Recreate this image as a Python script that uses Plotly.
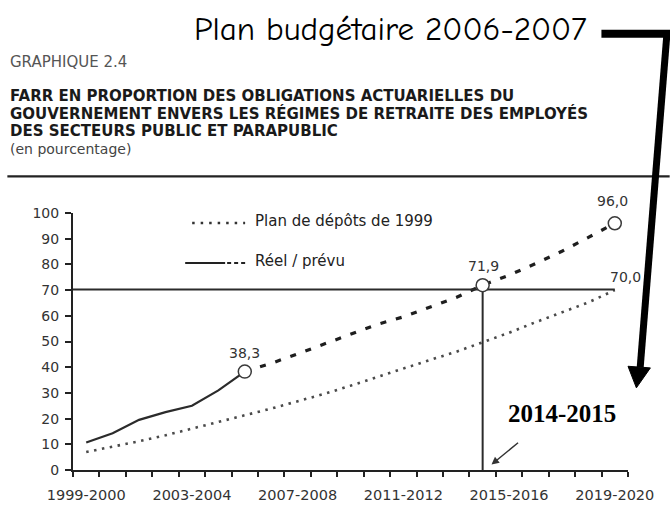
import plotly.graph_objects as go

# ---------------- data ----------------
categories = ["1999-2000", "2000-2001", "2001-2002", "2002-2003", "2003-2004",
              "2004-2005", "2005-2006", "2006-2007", "2007-2008", "2008-2009",
              "2009-2010", "2010-2011", "2011-2012", "2012-2013", "2013-2014",
              "2014-2015", "2015-2016", "2016-2017", "2017-2018", "2018-2019",
              "2019-2020"]
tick_labels = ["1999-2000", "2003-2004", "2007-2008", "2011-2012", "2015-2016", "2019-2020"]
y_ticks = [0, 10, 20, 30, 40, 50, 60, 70, 80, 90, 100]

plan_1999 = [7.0, 9.0, 11.2, 13.5, 16.0, 18.6, 21.3, 23.9, 26.6, 29.6, 32.8,
             36.2, 39.6, 42.8, 46.0, 49.6, 53.4, 57.5, 61.3, 65.2, 70.0]
reel_categories = categories[0:7]
reel_values = [10.7, 14.3, 19.5, 22.5, 25.0, 31.0, 38.3]
prevu_categories = categories[6:21]
prevu_values = [38.3, 41.5, 45.2, 49.0, 53.0, 56.6, 59.6, 63.3, 67.1, 71.9,
                75.8, 80.3, 85.1, 90.5, 96.0]
marker_categories = ["2005-2006", "2014-2015", "2019-2020"]
seuil = 70.2
annee_seuil = "2014-2015"

# ---------------- geometry helpers ----------------
W, H = 670, 528
L, R, T, B = 72.7, 628.3, 213.3, 470.5
PW, PH = R - L, B - T


def fx(px):
    return (px - L) / PW


def fy(py):
    return (B - py) / PH


def idx(cat):
    return categories.index(cat)


def fmt(v):
    return f"{v:.1f}".replace(".", ",")


FONT = "DejaVu Sans"
DARK = "#2b2b2b"

fig = go.Figure()

# Plan de dépôts de 1999 (dotted)
fig.add_trace(go.Scatter(
    x=[idx(c) for c in categories], y=plan_1999, mode="lines",
    line=dict(color="#4a4a4a", width=2.6, dash="2.5px,5.5px"),
    showlegend=False, hoverinfo="skip"))

# Réel (solid)
fig.add_trace(go.Scatter(
    x=[idx(c) for c in reel_categories], y=reel_values, mode="lines",
    line=dict(color=DARK, width=2.2), showlegend=False, hoverinfo="skip"))

# Prévu (dashed)
fig.add_trace(go.Scatter(
    x=[idx(c) for c in prevu_categories], y=prevu_values, mode="lines",
    line=dict(color="#1e1e1e", width=3.2, dash="6px,10px"),
    showlegend=False, hoverinfo="skip"))

# threshold lines
fig.add_trace(go.Scatter(
    x=[-0.5, idx(categories[-1])], y=[seuil, seuil], mode="lines",
    line=dict(color=DARK, width=2), showlegend=False, hoverinfo="skip"))
fig.add_trace(go.Scatter(
    x=[idx(annee_seuil), idx(annee_seuil)], y=[0, seuil], mode="lines",
    line=dict(color=DARK, width=2), showlegend=False, hoverinfo="skip"))

# open circle markers
all_series = dict(zip(prevu_categories, prevu_values))
fig.add_trace(go.Scatter(
    x=[idx(c) for c in marker_categories],
    y=[all_series[c] for c in marker_categories], mode="markers",
    marker=dict(symbol="circle", size=13, color="white",
                line=dict(color="#3a3a3a", width=1.5)),
    showlegend=False, hoverinfo="skip"))

annotations = []
# value labels
lab_shifts = {"2005-2006": (0, 19), "2014-2015": (1, 19), "2019-2020": (-2, 22)}
for c in marker_categories:
    dx, dy = lab_shifts[c]
    annotations.append(dict(x=idx(c), y=all_series[c], xref="x", yref="y",
                            text=fmt(all_series[c]), showarrow=False,
                            xshift=dx, yshift=dy,
                            font=dict(family=FONT, size=14, color="#333")))
annotations.append(dict(x=idx(categories[-1]), y=plan_1999[-1], xref="x", yref="y",
                        text=fmt(plan_1999[-1]), showarrow=False,
                        xshift=11, yshift=13,
                        font=dict(family=FONT, size=14, color="#333")))

# legend (manual)
annotations.append(dict(x=fx(253), y=fy(221.7), xref="paper", yref="paper",
                        text="Plan de dépôts de 1999", showarrow=False,
                        xanchor="left", yanchor="middle",
                        font=dict(family=FONT, size=15, color="#222")))
annotations.append(dict(x=fx(252.7), y=fy(261.7), xref="paper", yref="paper",
                        text="Réel / prévu", showarrow=False,
                        xanchor="left", yanchor="middle",
                        font=dict(family=FONT, size=15, color="#222")))

# 2014-2015 label and small arrow
annotations.append(dict(x=fx(562), y=fy(414), xref="paper", yref="paper",
                        text="<b>2014-2015</b>", showarrow=False,
                        xanchor="center", yanchor="middle",
                        font=dict(family="Liberation Serif", size=25, color="black")))
annotations.append(dict(x=fx(491.7), y=fy(465), xref="paper", yref="paper",
                        text="", showarrow=True, ax=28, ay=-23,
                        arrowhead=2, arrowsize=1, arrowwidth=1.5,
                        arrowcolor="#333"))

# header texts
annotations.append(dict(x=fx(192), y=fy(29), xref="paper", yref="paper",
                        text="Plan budgétaire 2006-2007", showarrow=False,
                        xanchor="left", yanchor="middle",
                        font=dict(family="Comic Sans MS, Comic Neue, Lato, sans-serif",
                                  size=33, color="black")))
annotations.append(dict(x=fx(8), y=fy(62), xref="paper", yref="paper",
                        text="GRAPHIQUE 2.4", showarrow=False,
                        xanchor="left", yanchor="middle",
                        font=dict(family=FONT, size=15, color="#555")))
title_lines = ["FARR EN PROPORTION DES OBLIGATIONS ACTUARIELLES DU",
               "GOUVERNEMENT ENVERS LES RÉGIMES DE RETRAITE DES EMPLOYÉS",
               "DES SECTEURS PUBLIC ET PARAPUBLIC"]
for line, yc in zip(title_lines, [96.5, 114.1, 131.7]):
    annotations.append(dict(x=fx(8), y=fy(yc), xref="paper", yref="paper",
                            text=f"<b>{line}</b>", showarrow=False,
                            xanchor="left", yanchor="middle",
                            font=dict(family=FONT, size=15, color="#1a1a1a")))
annotations.append(dict(x=fx(8), y=fy(149.5), xref="paper", yref="paper",
                        text="(en pourcentage)", showarrow=False,
                        xanchor="left", yanchor="middle",
                        font=dict(family=FONT, size=14, color="#444")))

shapes = []
# rule under title
shapes.append(dict(type="line", xref="paper", yref="paper",
                   x0=fx(7), x1=fx(670), y0=fy(176.7), y1=fy(176.7),
                   line=dict(color="#222", width=2.2)))
# legend samples
shapes.append(dict(type="line", xref="paper", yref="paper",
                   x0=fx(192), x1=fx(245), y0=fy(223.3), y1=fy(223.3),
                   line=dict(color="#333", width=2.6, dash="2.5px,6px")))
shapes.append(dict(type="line", xref="paper", yref="paper",
                   x0=fx(185), x1=fx(225), y0=fy(263.3), y1=fy(263.3),
                   line=dict(color="#222", width=2)))
shapes.append(dict(type="line", xref="paper", yref="paper",
                   x0=fx(227), x1=fx(246), y0=fy(263.3), y1=fy(263.3),
                   line=dict(color="#222", width=2, dash="4px,3px")))
# big black arrow
shapes.append(dict(type="line", xref="paper", yref="paper",
                   x0=fx(601.7), x1=fx(671), y0=fy(34), y1=fy(34),
                   line=dict(color="black", width=8)))
shapes.append(dict(type="line", xref="paper", yref="paper",
                   x0=fx(667.5), x1=fx(640.5), y0=fy(31), y1=fy(368),
                   line=dict(color="black", width=7)))
shapes.append(dict(type="path", xref="paper", yref="paper",
                   path=f"M {fx(628.3)},{fy(366.7)} L {fx(650.7)},{fy(368.3)} L {fx(636.7)},{fy(388.3)} Z",
                   fillcolor="black", line=dict(color="black", width=1)))

fig.update_layout(
    width=W, height=H,
    margin=dict(l=L, r=W - R, t=T, b=H - B, pad=0),
    paper_bgcolor="white", plot_bgcolor="white",
    showlegend=False,
    annotations=annotations, shapes=shapes,
    xaxis=dict(
        range=[-0.5, len(categories) - 0.5],
        tickmode="array",
        tickvals=[idx(c) for c in tick_labels],
        ticktext=tick_labels,
        ticks="outside", ticklen=5, tickcolor="rgba(0,0,0,0)",
        ticklabelstandoff=6,
        minor=dict(tickmode="array",
                   tickvals=[i - 0.5 for i in range(len(categories) + 1)],
                   ticks="outside", ticklen=5, tickwidth=2, tickcolor="#222"),
        showline=True, linecolor="#222", linewidth=2,
        showgrid=False, zeroline=False,
        tickfont=dict(family=FONT, size=14.5, color="#333"),
    ),
    yaxis=dict(
        range=[0, 100],
        tickmode="array", tickvals=y_ticks,
        ticks="outside", ticklen=6, tickwidth=2, tickcolor="#222",
        ticklabelstandoff=3,
        showline=True, linecolor="#222", linewidth=2,
        showgrid=False, zeroline=False,
        tickfont=dict(family=FONT, size=14, color="#333"),
    ),
)

fig.write_html("out.html",
               config={"displayModeBar": False},
               post_script="document.body.style.margin='0';document.body.style.overflow='hidden';")
